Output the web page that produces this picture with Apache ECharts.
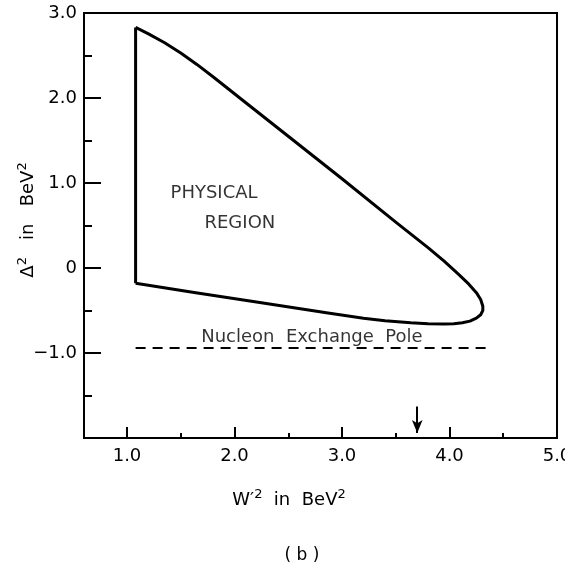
<!DOCTYPE html>
<html>
<head>
<meta charset="utf-8">
<script src="https://cdn.jsdelivr.net/npm/echarts@6/dist/echarts.min.js"></script>
<style>html,body{margin:0;padding:0;background:#fff}#c{width:565px;height:567px}</style>
</head>
<body>
<div id="c"></div>
<script>
// ---- data ----
var xMajorTicks = [1.0, 2.0, 3.0, 4.0, 5.0];
var xMinorTicks = [1.5, 2.5, 3.5, 4.5];
var yMajorTicks = [3.0, 2.0, 1.0, 0, -1.0, -2.0];
var yMinorTicks = [2.5, 1.5, 0.5, -0.5, -1.5];
var yLabelValues = [3, 2, 1, 0, -1];
var yTickLabels = {"3": "3.0", "2": "2.0", "1": "1.0", "0": "0", "-1": "\u2212" + "1.0"};
// left vertical edge of physical region
var edgeLeft = [[1.08, -0.18], [1.08, 2.83]];
// boundary curve of physical region (top, tip, bottom back to left)
var boundary = [
  [1.08, 2.83], [1.20, 2.755], [1.35, 2.65], [1.50, 2.53], [1.65, 2.395],
  [1.80, 2.25], [1.95, 2.10], [2.07, 1.98], [2.50, 1.55], [3.00, 1.05],
  [3.50, 0.54], [3.80, 0.24], [3.95, 0.08], [4.08, -0.07], [4.18, -0.19],
  [4.25, -0.29], [4.29, -0.37], [4.31, -0.45], [4.31, -0.50], [4.29, -0.55],
  [4.25, -0.59], [4.19, -0.625], [4.12, -0.645], [4.04, -0.655], [3.95, -0.66],
  [3.80, -0.657], [3.64, -0.645], [3.40, -0.62], [3.20, -0.59], [2.87, -0.53],
  [2.25, -0.41], [1.64, -0.29], [1.08, -0.18]
];
var poleLine = [[1.08, -0.94], [4.35, -0.94]];
var arrowX = 3.7;
var arrowY = [-1.63, -1.94];
var annotations = [
  {text: "PHYSICAL", x: 1.81, y: 0.88},
  {text: "REGION", x: 2.05, y: 0.52},
  {text: "Nucleon  Exchange  Pole", x: 2.72, y: -0.81}
];

var FONT = "DejaVu Sans";
var FS = 18;
var chart = echarts.init(document.getElementById('c'), null, {renderer: 'canvas'});
var option = {
  animation: false,
  backgroundColor: '#fff',
  textStyle: {fontFamily: FONT, color: '#000'},
  grid: {left: 84, top: 13, right: 8, bottom: 129, outerBoundsMode: 'none', containLabel: false,
    show: true, borderColor: '#000', borderWidth: 2, backgroundColor: 'transparent'},
  xAxis: [{
    type: 'value', min: 0.6, max: 5.0,
    axisLine: {show: true, onZero: false, lineStyle: {color: '#000', width: 2}},
    axisTick: {show: true, inside: true, length: 11, customValues: xMajorTicks, lineStyle: {color: '#000', width: 2}},
    axisLabel: {show: true, customValues: xMajorTicks, margin: 9, fontSize: FS, fontFamily: FONT, color: '#000',
      formatter: function (v) { return v.toFixed(1); }},
    splitLine: {show: false}
  }, {
    type: 'value', min: 0.6, max: 5.0, position: 'bottom',
    axisLine: {show: false, onZero: false},
    axisTick: {show: true, inside: true, length: 5, customValues: xMinorTicks, lineStyle: {color: '#000', width: 2}},
    axisLabel: {show: false}, splitLine: {show: false}
  }],
  yAxis: [{
    type: 'value', min: -2.0, max: 3.0,
    axisLine: {show: true, onZero: false, lineStyle: {color: '#000', width: 2}},
    axisTick: {show: true, inside: true, length: 17, customValues: yMajorTicks, lineStyle: {color: '#000', width: 2}},
    axisLabel: {show: true, customValues: yLabelValues, margin: 7, fontSize: FS, fontFamily: FONT, color: '#000',
      formatter: function (v) { return yTickLabels[String(Math.round(v))]; }},
    splitLine: {show: false}
  }, {
    type: 'value', min: -2.0, max: 3.0, position: 'left',
    axisLine: {show: false, onZero: false},
    axisTick: {show: true, inside: true, length: 8, customValues: yMinorTicks, lineStyle: {color: '#000', width: 2}},
    axisLabel: {show: false}, splitLine: {show: false}
  }],
  series: [
    {type: 'line', data: edgeLeft, symbol: 'none', lineStyle: {color: '#000', width: 3}, z: 5},
    {type: 'line', data: boundary, symbol: 'none', smooth: false, lineStyle: {color: '#000', width: 3, join: 'round'}, z: 5},
    {type: 'line', data: poleLine, symbol: 'none', lineStyle: {color: '#000', width: 2, type: [10, 7]}, z: 5,
      markLine: {
        silent: true, symbol: ['none', 'arrow'], symbolSize: [8, 13], label: {show: false},
        lineStyle: {color: '#000', width: 2, type: 'solid'},
        data: [[{coord: [arrowX, arrowY[0]]}, {coord: [arrowX, arrowY[1]]}]]
      }},
    {type: 'scatter', symbolSize: 0, data: annotations.map(function (a) { return {value: [a.x, a.y], name: a.text}; }),
      label: {show: true, position: 'inside', formatter: function (p) { return p.name; }, fontSize: FS, fontFamily: FONT, color: '#000'}, z: 6}
  ],
  graphic: [
    {type: 'text', x: 289, y: 500, style: {
      text: '{n|W\u2032}{s|2}{n|  in  BeV}{s|2}', align: 'center', verticalAlign: 'middle', fontFamily: FONT,
      rich: {n: {fontSize: FS, fontFamily: FONT, fill: '#000'}, s: {fontSize: 13, fontFamily: FONT, fill: '#000', padding: [0, 0, 10, 0]}}
    }},
    {type: 'text', x: 302, y: 556, style: {text: '( b )', align: 'center', verticalAlign: 'middle', fontSize: 17, fontFamily: FONT, fill: '#000'}},
    {type: 'text', x: 28, y: 220, rotation: Math.PI / 2, style: {
      text: '{n|\u0394}{s|2}{n|   in   BeV}{s|2}', align: 'center', verticalAlign: 'middle', fontFamily: FONT,
      rich: {n: {fontSize: FS, fontFamily: FONT, fill: '#000'}, s: {fontSize: 13, fontFamily: FONT, fill: '#000', padding: [0, 0, 10, 0]}}
    }}
  ]
};
chart.setOption(option);
</script>
</body>
</html>
